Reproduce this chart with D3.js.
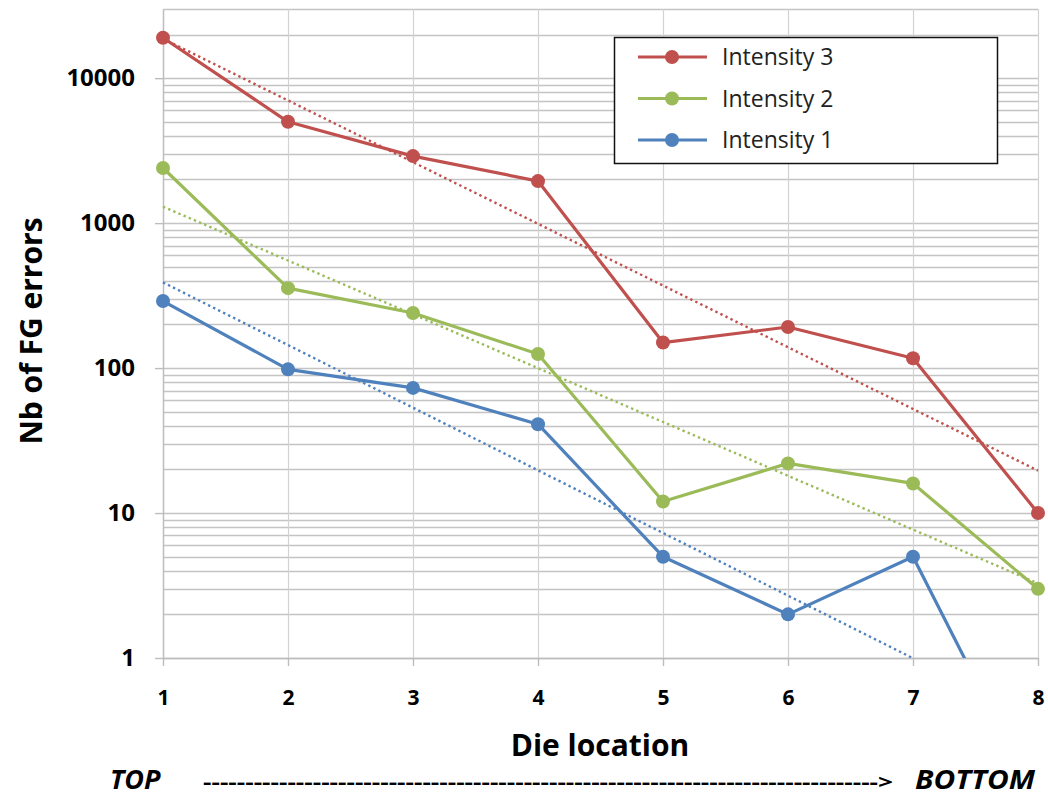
<!DOCTYPE html>
<html>
<head>
<meta charset="utf-8">
<script src="https://cdn.jsdelivr.net/npm/d3@7/dist/d3.min.js"></script>
<style>
  html, body { margin: 0; padding: 0; background: #fff; }
  svg { display: block; font-family: "Open Sans", "Liberation Sans", sans-serif; }
</style>
</head>
<body>
<svg id="chart" width="1048" height="796"></svg>
<script>
// Die locations (top to bottom of the die)
const locations = [1, 2, 3, 4, 5, 6, 7, 8];

// Number of FG errors per location for each intensity
const intensity3 = [19000, 5000, 2900, 1950, 150, 192, 117, 10];
const intensity2 = [2400, 356, 240, 125, 12, 22, 16, 3];
const intensity1 = [290, 98, 73, 41, 5, 2, 5, 0.1];

const seriesNames = ["Intensity 3", "Intensity 2", "Intensity 1"];
const seriesColors = ["#C0504D", "#9BBB59", "#4F81BD"];

const yTickValues = [1, 10, 100, 1000, 10000];

const series = [intensity3, intensity2, intensity1].map((vals, i) => ({
  name: seriesNames[i],
  color: seriesColors[i],
  points: locations.map((x, j) => ({ x, y: vals[j] }))
}));

const svg = d3.select("#chart");
const x0 = 163, x1 = 1038, yTop = 9, yBot = 658;

const x = d3.scaleLinear().domain([1, 8]).range([x0, x1]);
const y = d3.scaleLog().domain([1, 30000]).range([yBot, yTop]);

// clip region for the plot area
svg.append("defs").append("clipPath").attr("id", "plotClip")
  .append("rect").attr("x", x0 - 10).attr("y", yTop).attr("width", x1 - x0 + 20).attr("height", yBot - yTop);

// horizontal gridlines at every log step (1..9 per decade)
const gridVals = [];
for (let d = 1; d <= 10000; d *= 10) {
  for (let k = 1; k <= 9; k++) {
    const v = d * k;
    if (v <= 30000) gridVals.push(v);
  }
}
const grid = svg.append("g");
grid.selectAll("line.h").data(gridVals).join("line")
  .attr("class", "h")
  .attr("x1", x0).attr("x2", x1)
  .attr("y1", d => Math.round(y(d)) + 0.5).attr("y2", d => Math.round(y(d)) + 0.5)
  .attr("stroke", "#c4c4c4").attr("stroke-width", 1.4);

// vertical gridlines at each location
grid.selectAll("line.v").data(locations).join("line")
  .attr("class", "v")
  .attr("x1", d => Math.round(x(d)) + 0.5).attr("x2", d => Math.round(x(d)) + 0.5)
  .attr("y1", yTop).attr("y2", yBot)
  .attr("stroke", "#d2d2d2").attr("stroke-width", 1.2);

// axes
const yAxis = d3.axisLeft(y).tickValues(yTickValues).tickFormat(d3.format("d"))
  .tickSizeInner(8).tickSizeOuter(0).tickPadding(20);
const yg = svg.append("g").attr("transform", `translate(${x0},0)`).call(yAxis);
yg.select(".domain").attr("stroke", "#bdbdbd").attr("stroke-width", 1.4);
yg.selectAll(".tick line").attr("stroke", "#bdbdbd").attr("stroke-width", 1.4);
yg.selectAll(".tick text").attr("font-size", 24).attr("font-weight", 700).attr("fill", "#000")
  .attr("font-family", "'Open Sans', sans-serif");

const xAxis = d3.axisBottom(x).tickValues(locations).tickFormat(d3.format("d"))
  .tickSizeInner(8).tickSizeOuter(0).tickPadding(24);
const xg = svg.append("g").attr("transform", `translate(0,${yBot})`).call(xAxis);
xg.select(".domain").attr("stroke", "#bdbdbd").attr("stroke-width", 1.4);
xg.selectAll(".tick line").attr("stroke", "#bdbdbd").attr("stroke-width", 1.4);
xg.selectAll(".tick text").attr("font-size", 21).attr("font-weight", 700).attr("fill", "#000")
  .attr("font-family", "'Open Sans', sans-serif");

// axis titles
svg.append("text").attr("x", 600).attr("y", 756).attr("text-anchor", "middle")
  .attr("font-size", 30).attr("font-weight", 700).text("Die location");
svg.append("text").attr("transform", "translate(42,331) rotate(-90)").attr("text-anchor", "middle")
  .attr("font-size", 30).attr("font-weight", 700).text("Nb of FG errors");

// orientation note under the axis
const note = svg.append("g").attr("font-style", "italic").attr("font-weight", 700).attr("font-size", 27);
note.append("text").attr("x", 110).attr("y", 789).text("TOP");
note.append("text").attr("x", 203).attr("y", 789)
  .attr("textLength", 690).attr("lengthAdjust", "spacingAndGlyphs")
  .attr("font-style", "normal").attr("font-weight", 700).attr("font-size", 19)
  .text("-".repeat(80) + ">");
note.append("text").attr("x", 915).attr("y", 789)
  .attr("textLength", 120).attr("lengthAdjust", "spacingAndGlyphs").text("BOTTOM");

// exponential trendline fitted to each series (least squares on ln y)
function expFit(points) {
  const mx = d3.mean(points, p => p.x);
  const my = d3.mean(points, p => Math.log(p.y));
  const sxy = d3.sum(points, p => (p.x - mx) * (Math.log(p.y) - my));
  const sxx = d3.sum(points, p => (p.x - mx) ** 2);
  const b = sxy / sxx, a = my - b * mx;
  return xv => Math.exp(a + b * xv);
}

const plot = svg.append("g").attr("clip-path", "url(#plotClip)");

series.forEach(s => {
  const f = expFit(s.points);
  const xs = d3.range(1, 8.001, 0.05);
  plot.append("path")
    .datum(xs.map(v => ({ x: v, y: f(v) })))
    .attr("fill", "none").attr("stroke", s.color).attr("stroke-width", 2.4)
    .attr("stroke-dasharray", "2.4,3.2")
    .attr("d", d3.line().x(d => x(d.x)).y(d => y(d.y)));
});

const line = d3.line().x(d => x(d.x)).y(d => y(d.y));
series.forEach(s => {
  plot.append("path").datum(s.points)
    .attr("fill", "none").attr("stroke", s.color).attr("stroke-width", 3.2)
    .attr("stroke-linejoin", "round").attr("d", line);
  plot.selectAll(null).data(s.points).join("circle")
    .attr("cx", d => x(d.x)).attr("cy", d => y(d.y)).attr("r", 7)
    .attr("fill", s.color);
});

// legend
const lg = svg.append("g");
lg.append("rect").attr("x", 614.5).attr("y", 37.5).attr("width", 383).attr("height", 126)
  .attr("fill", "#fff").attr("stroke", "#111").attr("stroke-width", 1.5);
series.forEach((s, i) => {
  const cy = 57 + i * 41.5;
  lg.append("line").attr("x1", 638).attr("x2", 707).attr("y1", cy).attr("y2", cy)
    .attr("stroke", s.color).attr("stroke-width", 3.2);
  lg.append("circle").attr("cx", 672).attr("cy", cy).attr("r", 7).attr("fill", s.color);
  lg.append("text").attr("x", 722).attr("y", cy + 8).attr("font-size", 23).attr("fill", "#222")
    .text(s.name);
});
</script>
</body>
</html>
